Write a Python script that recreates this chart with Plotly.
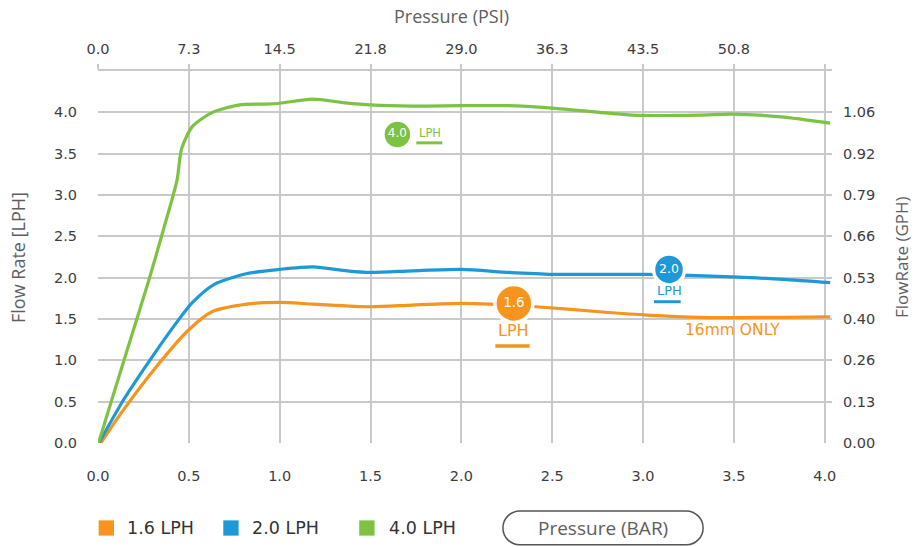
import plotly.graph_objects as go

# ---------------- data ----------------
bar_ticks = [0.0, 0.5, 1.0, 1.5, 2.0, 2.5, 3.0, 3.5, 4.0]
bar_labels = ["0.0", "0.5", "1.0", "1.5", "2.0", "2.5", "3.0", "3.5", "4.0"]
psi_labels = ["0.0", "7.3", "14.5", "21.8", "29.0", "36.3", "43.5", "50.8", ""]
lph_ticks = [0.0, 0.5, 1.0, 1.5, 2.0, 2.5, 3.0, 3.5, 4.0]
lph_labels = ["0.0", "0.5", "1.0", "1.5", "2.0", "2.5", "3.0", "3.5", "4.0"]
gph_labels = ["0.00", "0.13", "0.26", "0.40", "0.53", "0.66", "0.79", "0.92", "1.06"]

x_16 = [0, 0.14, 0.32, 0.5, 0.63, 0.82, 1.0, 1.185, 1.5, 1.73, 2.0, 2.155, 2.41, 2.76, 3.02, 3.31, 3.77, 4.03]
y_16 = [-0.05, 0.40, 0.92, 1.37, 1.59, 1.68, 1.70, 1.68, 1.648, 1.669, 1.689, 1.68, 1.648, 1.588, 1.548, 1.52, 1.52, 1.527]

x_20 = [0, 0.14, 0.285, 0.43, 0.52, 0.64, 0.82, 1.0, 1.185, 1.37, 1.5, 1.73, 2.0, 2.26, 2.5, 2.76, 3.02, 3.49, 3.77, 4.03]
y_20 = [-0.02, 0.52, 1.0, 1.45, 1.70, 1.92, 2.05, 2.10, 2.13, 2.083, 2.064, 2.083, 2.10, 2.064, 2.04, 2.04, 2.04, 2.01, 1.98, 1.94]

x_40 = [0, 0.14, 0.28, 0.36, 0.435, 0.46, 0.52, 0.63, 0.78, 0.92, 1.0, 1.18, 1.36, 1.5, 1.73, 2.0, 2.26, 2.5, 2.76, 2.94, 3.31, 3.49, 3.76, 4.03]
y_40 = [-0.02, 0.98, 1.97, 2.58, 3.18, 3.56, 3.83, 4.0, 4.09, 4.10, 4.11, 4.16, 4.115, 4.09, 4.075, 4.08, 4.08, 4.05, 4.0, 3.966, 3.966, 3.978, 3.946, 3.87]

series_names = ["1.6 LPH", "2.0 LPH", "4.0 LPH"]
badge_text = ["1.6", "2.0", "4.0"]

ORANGE = "#F7941D"
BLUE = "#1E98D7"
GREEN = "#7DC242"
GRID = "#c9c9c9"
TICK = "#3d3d3d"
TITLE = "#5e5e5e"
TICKFONT = "DejaVu Sans"
TITLEFONT = "Open Sans"

fig = go.Figure()

for xs, ys, col, name in [(x_16, y_16, ORANGE, series_names[0]),
                          (x_20, y_20, BLUE, series_names[1]),
                          (x_40, y_40, GREEN, series_names[2])]:
    fig.add_trace(go.Scatter(x=xs, y=ys, mode="lines", name=name,
                             line=dict(color=col, width=3.2, shape="spline", smoothing=0.7),
                             showlegend=False, hoverinfo="skip"))

# invisible trace to anchor the secondary (PSI / GPH) axes
fig.add_trace(go.Scatter(x=[0, 4], y=[0, 0], xaxis="x2", yaxis="y2", mode="lines",
                         line=dict(width=0, color="rgba(0,0,0,0)"), showlegend=False,
                         hoverinfo="skip"))

# badges (circles with value)
badges = [
    (2.289, 1.689, ORANGE, badge_text[0], 38, 13.5),
    (3.143, 2.100, BLUE, badge_text[1], 31, 12.5),
    (1.648, 3.733, GREEN, badge_text[2], 29, 12),
]
for bx, by, col, txt, sz, fs in badges:
    fig.add_trace(go.Scatter(x=[bx], y=[by], mode="markers+text", text=[txt],
                             textposition="middle center",
                             textfont=dict(color="white", size=fs, family=TICKFONT),
                             marker=dict(size=sz, color=col, line=dict(color="white", width=3.5)),
                             cliponaxis=False, showlegend=False, hoverinfo="skip"))

def ann(x, y, text, color, size, family, xref="paper", yref="paper", angle=0, xanchor="center"):
    return dict(x=x, y=y, xref=xref, yref=yref, text=text, showarrow=False,
                xanchor=xanchor, yanchor="middle", textangle=angle,
                font=dict(color=color, size=size, family=family))

annotations = [
    ann(1.826, 3.752, "LPH", GREEN, 11.5, TICKFONT, "x", "y"),
    ann(3.143, 1.842, "LPH", BLUE, 13, TICKFONT, "x", "y"),
    ann(2.289, 1.358, "LPH", ORANGE, 16, TICKFONT, "x", "y"),
    ann(3.49, 1.366, "16mm ONLY", ORANGE, 15.5, TICKFONT, "x", "y"),
    ann(-0.109, 0.5, "Flow Rate [LPH]", TITLE, 18, TITLEFONT, angle=-90),
    ann(1.094, 0.5, "FlowRate (GPH)", TITLE, 17, TITLEFONT, angle=-90),
    ann(0.482, 1.149, "Pressure (PSI)", TITLE, 18, TITLEFONT),
    ann(0.688, -0.228, "Pressure (BAR)", TITLE, 19, TITLEFONT),
]

shapes = [
    dict(type="line", x0=1.752, x1=1.895, y0=3.631, y1=3.631, xref="x", yref="y",
         line=dict(color=GREEN, width=3)),
    dict(type="line", x0=3.06, x1=3.207, y0=1.709, y1=1.709, xref="x", yref="y",
         line=dict(color=BLUE, width=3)),
    dict(type="line", x0=2.187, x1=2.376, y0=1.173, y1=1.173, xref="x", yref="y",
         line=dict(color=ORANGE, width=3.5)),
]

# legend (manual: squares + labels)
leg_cols = [ORANGE, BLUE, GREEN]
leg_sq_x = [0.0009, 0.1707, 0.3559]
leg_txt_x = [0.0364, 0.2068, 0.3932]
sq_w = 0.0209
for i in range(3):
    shapes.append(dict(type="rect", xref="paper", yref="paper",
                       x0=leg_sq_x[i], x1=leg_sq_x[i] + sq_w, y0=-0.2490, y1=-0.2080,
                       fillcolor=leg_cols[i], line=dict(width=0)))
    annotations.append(ann(leg_txt_x[i], -0.2282, series_names[i], "#333333", 17.5,
                           TICKFONT, xanchor="left"))

# pill box around "Pressure (BAR)"
x0, x1 = 0.5517, 0.8244
yt, yb = -0.1826, -0.2738
rx = (yt - yb) / 2 * 372 / 734
ym = (yt + yb) / 2
ry = (yt - yb) / 2
k = 0.5523
path = (f"M {x0+rx},{yt} L {x1-rx},{yt} "
        f"C {x1-rx+k*rx},{yt} {x1},{ym+k*ry} {x1},{ym} "
        f"C {x1},{ym-k*ry} {x1-rx+k*rx},{yb} {x1-rx},{yb} "
        f"L {x0+rx},{yb} "
        f"C {x0+rx-k*rx},{yb} {x0},{ym-k*ry} {x0},{ym} "
        f"C {x0},{ym+k*ry} {x0+rx-k*rx},{yt} {x0+rx},{yt} Z")
shapes.append(dict(type="path", xref="paper", yref="paper", path=path,
                   line=dict(color="#555555", width=1.5), fillcolor="rgba(0,0,0,0)"))

fig.update_layout(
    width=915, height=547,
    margin=dict(l=98, r=83, t=71, b=104, autoexpand=False),
    paper_bgcolor="white", plot_bgcolor="white",
    showlegend=False,
    xaxis=dict(range=[0, 4.04], tickvals=bar_ticks, ticktext=bar_labels,
               showgrid=True, gridcolor=GRID, gridwidth=1.6, zeroline=False,
               showline=False, ticks="", ticklabelstandoff=22,
               tickfont=dict(color=TICK, size=14.5, family=TICKFONT)),
    xaxis2=dict(range=[0, 4.04], overlaying="x", side="top", anchor="y",
                tickvals=bar_ticks, ticktext=psi_labels, showgrid=False,
                zeroline=False, showline=True, linecolor=GRID, linewidth=1.6,
                ticks="outside", ticklen=5, tickcolor=GRID, tickwidth=1.6,
                ticklabelstandoff=4,
                tickfont=dict(color=TICK, size=14.5, family=TICKFONT)),
    yaxis=dict(range=[0, 4.5], tickvals=lph_ticks, ticktext=lph_labels,
               showgrid=True, gridcolor=GRID, gridwidth=1.6, zeroline=False,
               showline=False, ticks="", ticklabelstandoff=20,
               tickfont=dict(color=TICK, size=14.5, family=TICKFONT)),
    yaxis2=dict(range=[0, 4.5], overlaying="y", side="right", anchor="x",
                tickvals=lph_ticks, ticktext=gph_labels, showgrid=False,
                zeroline=False, showline=False, ticks="", ticklabelstandoff=10,
                tickfont=dict(color=TICK, size=14.5, family=TICKFONT)),
    annotations=annotations,
    shapes=shapes,
)

fig.write_html("out.html", config={"displayModeBar": False},
               post_script="document.body.style.margin='0px';document.body.style.overflow='hidden';")
